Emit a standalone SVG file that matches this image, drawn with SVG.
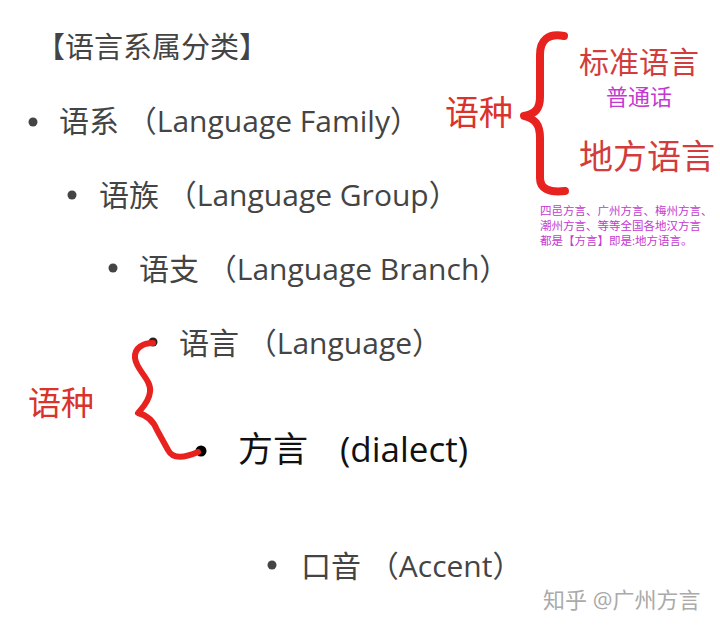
<svg xmlns="http://www.w3.org/2000/svg" width="720" height="630" viewBox="0 0 720 630">
<style>
text{font-family:"Open Sans","Noto Sans CJK SC",sans-serif}
.g{fill:#444;font-size:30px}
.dot{fill:#444}
.red{fill:#d9332c}
.brace{fill:none;stroke:#e8231f;stroke-linecap:round;stroke-linejoin:round}
.mag{fill:#c43ad0}
</style>
<rect width="720" height="630" fill="#fff"/>
<text x="36" y="58" class="g" style="font-size:29px">【语言系属分类】</text>
<circle cx="33" cy="122" r="4.5" class="dot"/>
<text x="59" y="132" class="g">语系 （Language Family）</text>
<circle cx="72" cy="195" r="4.5" class="dot"/>
<text x="99" y="206" class="g">语族 （Language Group）</text>
<circle cx="113" cy="268" r="4.5" class="dot"/>
<text x="139" y="280" class="g">语支 （Language Branch）</text>
<circle cx="153" cy="342" r="4.5" fill="#222"/>
<text x="179" y="354" class="g">语言 （Language）</text>
<circle cx="201" cy="451" r="5.5" fill="#000"/>
<text x="238" y="462" style="fill:#111;font-size:35px">方言</text>
<text x="340" y="462" style="fill:#111;font-size:35px">(dialect)</text>
<circle cx="272" cy="565" r="4.5" class="dot"/>
<text x="301" y="577" class="g">口音 （Accent）</text>
<text x="543" y="608" style="fill:#aaa;font-size:22px">知乎 @广州方言</text>

<text x="445" y="125" class="red" style="font-size:34px">语种</text>
<path class="brace" stroke-width="8" d="M564,36 C548,33 540,40 540,55 L540,97 C540,109 535,114 524,116 C535,119 540,124 540,138 L540,178 C540,188 548,193 565,191"/>
<text x="579" y="73" style="fill:#d33c3c;font-size:30px">标准语言</text>
<text x="606" y="104.5" class="mag" style="font-size:22px">普通话</text>
<text x="579" y="169" style="fill:#d33c3c;font-size:34px">地方语言</text>
<text x="540" y="215" class="mag" style="font-size:11.5px">四邑方言、广州方言、梅州方言、</text>
<text x="540" y="230" class="mag" style="font-size:11.5px">潮州方言、等等全国各地汉方言</text>
<text x="540" y="245" class="mag" style="font-size:11.5px">都是【方言】即是:地方语言。</text>

<text x="28" y="415" class="red" style="font-size:33px">语种</text>
<path class="brace" stroke-width="6" d="M153,343 C143,343 134,348 135,358 C136,370 152,380 150,392 C149,402 142,408 138,413 C146,415 153,420 157,430 L168,450 C172,458 182,459 198,452"/>
</svg>
